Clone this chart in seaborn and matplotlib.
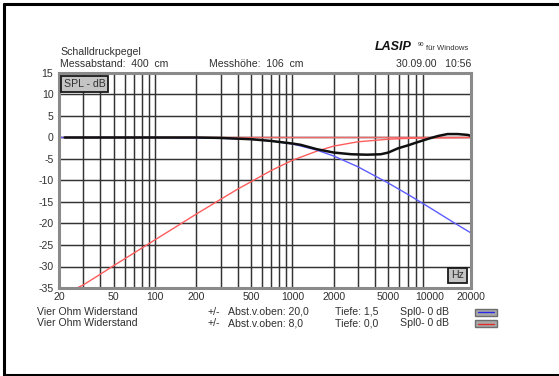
import matplotlib
matplotlib.use("Agg")
import matplotlib.pyplot as plt
import seaborn as sns
import pandas as pd
from matplotlib.patches import Rectangle
from matplotlib.lines import Line2D

# Frequency responses (Hz, dB)
hp_freq = [27, 30, 40, 50, 70, 100, 150, 200, 300, 400, 500, 700, 1000,
           1500, 2000, 3000, 5000, 7000, 10000, 15000, 20000]
hp_db = [-35.0, -34.3, -31.8, -29.8, -26.9, -23.8, -20.3, -17.8, -14.4, -12.0,
         -10.3, -7.7, -5.3, -3.2, -2.0, -1.0, -0.4, -0.2, -0.1, -0.05, 0.0]

lp_freq = [20, 50, 100, 200, 300, 500, 700, 1000, 1500, 2000, 3000, 5000,
           7000, 10000, 15000, 20000]
lp_db = [0.0, 0.0, 0.0, -0.1, -0.2, -0.4, -0.8, -1.5, -2.9, -4.3, -6.8, -10.6,
         -13.3, -16.3, -19.8, -22.2]

sum_freq = [22, 50, 100, 200, 300, 500, 700, 1000, 1150, 1500, 2000, 2700,
            3500, 4400, 5000, 5900, 7000, 7700, 9100, 10000, 11500, 13500,
            16000, 19000, 20000]
sum_db = [0.0, 0.0, 0.0, 0.0, -0.1, -0.4, -0.8, -1.4, -1.7, -2.7, -3.5, -3.9,
          -4.0, -3.9, -3.5, -2.5, -1.8, -1.35, -0.6, -0.2, 0.35, 0.8, 0.8, 0.6,
          0.35]

ref_freq = [20, 20000]
ref_db = [0.0, 0.0]

x_labels = [20, 50, 100, 200, 500, 1000, 2000, 5000, 10000, 20000]
y_ticks = [15, 10, 5, 0, -5, -10, -15, -20, -25, -30, -35]

rows = [
    ("Vier Ohm Widerstand", "+/-", "Abst.v.oben: 20,0", "Tiefe: 1,5", "Spl0- 0 dB", "#2a2ae6"),
    ("Vier Ohm Widerstand", "+/-", "Abst.v.oben: 8,0", "Tiefe: 0,0", "Spl0- 0 dB", "#e62a2a"),
]

sns.set_style("white")
plt.rcParams["font.family"] = ["Liberation Sans", "DejaVu Sans"]
FS = 7.6
TXT = "#303030"

W, H = 559, 376
fig = plt.figure(figsize=(W / 100, H / 100), dpi=100)


def fx(x):
    return x / W


def fy(y):
    return 1 - y / H


ax = fig.add_axes([fx(59), fy(288), fx(471) - fx(59), fy(73) - fy(288)])
ax.set_xscale("log")
ax.set_xlim(20, 20000)
ax.set_ylim(-35, 15)

# grid: every 1-2-3...9 step per decade, every 5 dB
grid_x = [m * 10 ** d for d in range(1, 4) for m in range(1, 10) if 20 <= m * 10 ** d <= 10000]
for gx in grid_x:
    ax.axvline(gx, color="#333333", lw=1.05, zorder=1)
for gy in y_ticks:
    ax.axhline(gy, color="#333333", lw=1.05, zorder=1)

ax.set_xticks(x_labels)
ax.set_xticklabels([str(v) for v in x_labels])
ax.xaxis.set_minor_locator(matplotlib.ticker.NullLocator())
ax.set_yticks(y_ticks)
ax.set_yticklabels([str(v) for v in y_ticks])
ax.tick_params(axis="both", length=0, labelsize=FS, colors=TXT, pad=3)
ax.tick_params(axis="y", pad=4)
for s in ax.spines.values():
    s.set_color("#8a8a8a")
    s.set_linewidth(2.2)
    s.set_zorder(5)

sns.lineplot(x=ref_freq, y=ref_db, ax=ax, color="#f06a6a", lw=1.0, zorder=2)
sns.lineplot(x=hp_freq, y=hp_db, ax=ax, color="#ff5c5c", lw=1.0, zorder=3)
sns.lineplot(x=lp_freq, y=lp_db, ax=ax, color="#5c5cff", lw=1.0, zorder=3)
sns.lineplot(x=sum_freq, y=sum_db, ax=ax, color="#101010", lw=1.8, zorder=4)
ax.set_xlabel("")
ax.set_ylabel("")

box = dict(boxstyle="square,pad=0.25", fc="#c4c4c4", ec="#1a1a1a", lw=1.3)
ax.text(0.012, 0.972, "SPL - dB", transform=ax.transAxes, ha="left", va="top",
        fontsize=FS, color=TXT, bbox=box, zorder=6)
ax.text(0.983, 0.035, "Hz", transform=ax.transAxes, ha="right", va="bottom",
        fontsize=FS, color=TXT, bbox=box, zorder=6)

# header
fig.text(fx(60), fy(52), "Schalldruckpegel", fontsize=FS, color=TXT, va="center")
fig.text(fx(60), fy(64), "Messabstand:  400  cm", fontsize=FS, color=TXT, va="center")
fig.text(fx(209), fy(64), "Messhöhe:  106  cm", fontsize=FS, color=TXT, va="center")
fig.text(fx(471), fy(64), "30.09.00   10:56", fontsize=FS, color=TXT, va="center", ha="right")
fig.text(fx(375), fy(47.5), "LASIP", fontsize=9, fontweight="bold", style="italic",
         color="#111111", va="center")
fig.text(fx(418), fy(44.5), "90", fontsize=4.2, color=TXT, va="center")
fig.text(fx(426), fy(48), "für Windows", fontsize=5.5, color=TXT, va="center")

# series descriptions
for i, (name, pm, abst, tiefe, spl, col) in enumerate(rows):
    y = 312 + 11.5 * i
    fig.text(fx(37), fy(y), name, fontsize=FS, color=TXT, va="center")
    fig.text(fx(208), fy(y), pm, fontsize=FS, color=TXT, va="center")
    fig.text(fx(228), fy(y), abst, fontsize=FS, color=TXT, va="center")
    fig.text(fx(335), fy(y), tiefe, fontsize=FS, color=TXT, va="center")
    fig.text(fx(400), fy(y), spl, fontsize=FS, color=TXT, va="center")
    fig.patches.append(Rectangle((fx(475), fy(y + 3.5)), fx(22), fx(7) * W / H,
                                 transform=fig.transFigure, fc="#a8a8a8",
                                 ec="#6e6e6e", lw=1.0))
    fig.lines.append(Line2D([fx(478), fx(494)], [fy(y), fy(y)],
                            transform=fig.transFigure, color=col, lw=1.0))

# outer frame
fig.lines.append(Line2D([fx(4), fx(4), fx(600)], [fy(4), fy(375), fy(375)],
                        transform=fig.transFigure, color="black", lw=2.2))
fig.lines.append(Line2D([fx(4), fx(600)], [fy(4), fy(4)],
                        transform=fig.transFigure, color="black", lw=2.2))

fig.savefig("out.png", dpi=100)
